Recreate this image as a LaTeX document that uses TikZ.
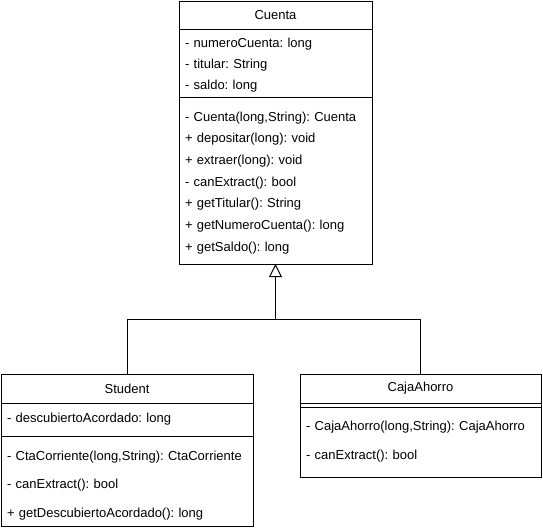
\documentclass[tikz,border=0pt]{standalone}
\usepackage{fontspec}
\setmainfont{Liberation Sans}
\frenchspacing
\usetikzlibrary{positioning,arrows.meta}
\newcommand{\umlstrut}[1]{\rule{0pt}{#1}}

\begin{document}
\begin{tikzpicture}[
            x=1pt, y=-1pt,
            every node/.style={draw, line width=1pt, outer sep=0pt, inner xsep=6pt, inner ysep=2pt},
            umlhead/.style={align=center, font=\fontsize{13}{15}\selectfont},
            umlpart/.style={align=left, font=\fontsize{13}{#1}\selectfont},
            umlpart/.default=21.7,
            inherit/.style={draw, line width=1pt, -{Triangle[open, length=13pt, width=13pt]}}
          ]
          \useasboundingbox (0,0) rectangle (543,531);

          % Superclass
          \node[umlhead, text width=181pt, minimum height=28pt, anchor=north west] (cuentaHead) at (179,1) {Cuenta};
          \node[umlpart=21, text width=181pt, minimum height=68pt, below=0pt of cuentaHead] (cuentaAttr)
            {\umlstrut{14pt}- numeroCuenta: long\\ - titular: String\\ - saldo: long};
          \node[umlpart, text width=181pt, minimum height=167pt, below=0pt of cuentaAttr] (cuentaMeth)
            {\umlstrut{14pt}- Cuenta(long,String): Cuenta\\ + depositar(long): void\\ + extraer(long): void\\
             - canExtract(): bool\\ + getTitular(): String\\ + getNumeroCuenta(): long\\ + getSaldo(): long};

          % Left subclass
          \node[umlhead, text width=240pt, minimum height=29pt, anchor=north west] (studentHead) at (1,374) {Student};
          \node[umlpart, text width=240pt, minimum height=33pt, below=0pt of studentHead] (studentAttr)
            {- descubiertoAcordado: long};
          \node[umlpart=28.5, text width=240pt, minimum height=90pt, below=0pt of studentAttr] (studentMeth)
            {\umlstrut{18pt}- CtaCorriente(long,String): CtaCorriente\\ - canExtract(): bool\\ + getDescubiertoAcordado(): long};

          % Right subclass
          \node[umlhead, text width=229pt, minimum height=29pt, anchor=north west] (cajaHead) at (300,374) {CajaAhorro};
          \node[minimum width=241pt, minimum height=4pt, inner sep=0pt, below=0pt of cajaHead] (cajaAttr) {};
          \node[umlpart=29, text width=229pt, minimum height=70pt, below=0pt of cajaAttr] (cajaMeth)
            {- CajaAhorro(long,String): CajaAhorro\\ - canExtract(): bool};

          % Inheritance
          \coordinate (join) at ([yshift=-55pt]cuentaMeth.south);
          \draw[inherit] (studentHead.north) |- (join) -- (cuentaMeth.south);
          \draw[line width=1pt] (cajaHead.north) |- (join);

        \end{tikzpicture}
\end{document}
